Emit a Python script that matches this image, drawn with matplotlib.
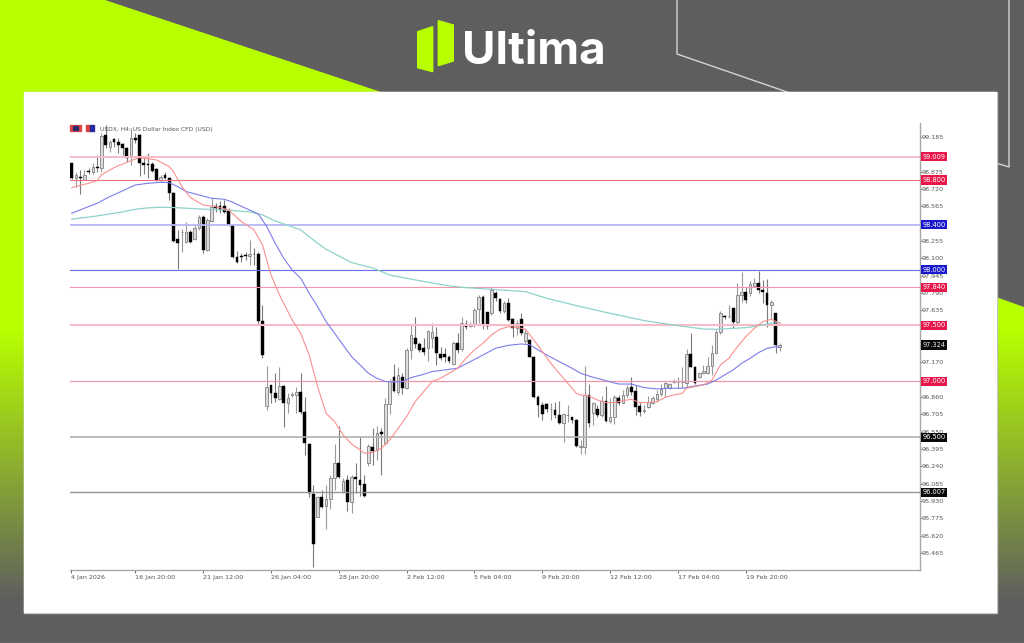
import numpy as np
import matplotlib
matplotlib.use("Agg")
from matplotlib import pyplot as plt
from matplotlib.patches import Polygon, Rectangle

opens = [98.950, 98.822, 98.828, 98.801, 98.881, 98.875, 98.920, 98.905, 99.203, 99.099, 99.167, 99.144,
         99.120, 99.090, 99.010, 99.179, 99.203, 98.950, 98.941, 98.941, 98.899, 98.798, 98.846, 98.816,
         98.682, 98.270, 98.333, 98.244, 98.339, 98.273, 98.369, 98.473, 98.175, 98.434, 98.565, 98.571,
         98.571, 98.527, 98.399, 98.116, 98.118, 98.127, 98.121, 98.139, 98.139, 97.543, 96.780, 96.968,
         96.893, 96.840, 96.959, 96.810, 96.878, 96.878, 96.902, 96.729, 96.440, 95.993, 95.791, 95.969,
         95.886, 95.946, 96.133, 96.267, 96.014, 96.118, 95.925, 96.148, 96.118, 96.083, 96.273, 96.410,
         96.387, 96.548, 96.446, 96.798, 97.042, 96.908, 97.042, 96.938, 97.281, 97.385, 97.334, 97.296,
         97.296, 97.385, 97.400, 97.245, 97.245, 97.215, 97.156, 97.346, 97.287, 97.513, 97.495, 97.504,
         97.644, 97.758, 97.618, 97.609, 97.787, 97.734, 97.632, 97.698, 97.555, 97.474, 97.555, 97.364,
         97.370, 97.221, 96.864, 96.789, 96.798, 96.750, 96.744, 96.700, 96.631, 96.697, 96.685, 96.655,
         96.417, 96.417, 96.878, 96.715, 96.750, 96.699, 96.827, 96.646, 96.684, 96.848, 96.810, 96.878,
         96.953, 96.917, 96.780, 96.738, 96.768, 96.804, 96.839, 96.884, 96.938, 96.938, 96.994, 96.994,
         96.991, 96.988, 97.242, 97.131, 97.036, 97.078, 97.078, 97.137, 97.257, 97.444, 97.584, 97.584,
         97.653, 97.534, 97.772, 97.802, 97.787, 97.853, 97.882, 97.817, 97.787, 97.683, 97.608, 97.304]
highs = [98.950, 98.875, 98.890, 98.890, 98.905, 98.950, 99.024, 99.218, 99.293, 99.158, 99.173, 99.173,
         99.129, 99.099, 99.263, 99.218, 99.209, 99.010, 99.039, 98.965, 98.905, 98.846, 98.869, 98.831,
         98.691, 98.354, 98.363, 98.428, 98.354, 98.399, 98.488, 98.488, 98.458, 98.643, 98.592, 98.613,
         98.622, 98.548, 98.405, 98.166, 98.145, 98.160, 98.264, 98.190, 98.160, 97.683, 97.138, 96.968,
         97.072, 97.126, 96.968, 96.893, 96.908, 96.953, 97.078, 96.857, 96.446, 96.074, 95.975, 96.029,
         96.074, 96.163, 96.440, 96.601, 96.133, 96.163, 96.163, 96.267, 96.506, 96.163, 96.440, 96.580,
         96.601, 96.580, 96.848, 97.018, 97.155, 97.126, 97.072, 97.296, 97.504, 97.579, 97.355, 97.385,
         97.460, 97.525, 97.489, 97.311, 97.296, 97.236, 97.364, 97.430, 97.579, 97.549, 97.534, 97.653,
         97.772, 97.772, 97.624, 97.841, 97.811, 97.743, 97.722, 97.743, 97.564, 97.549, 97.615, 97.460,
         97.376, 97.227, 96.879, 96.819, 96.810, 96.804, 96.819, 96.828, 96.721, 96.789, 96.685, 96.661,
         96.476, 97.138, 96.974, 96.819, 96.789, 96.869, 96.959, 96.848, 96.878, 96.878, 96.923, 96.967,
         97.042, 96.967, 96.818, 96.789, 96.869, 96.869, 96.923, 96.976, 96.997, 96.982, 97.018, 97.036,
         97.125, 97.286, 97.435, 97.137, 97.087, 97.146, 97.215, 97.325, 97.459, 97.632, 97.593, 97.683,
         97.659, 97.882, 97.981, 97.847, 97.900, 97.921, 97.990, 97.906, 97.912, 97.727, 97.614, 97.340]
lows = [98.810, 98.741, 98.679, 98.801, 98.852, 98.852, 98.875, 98.869, 99.084, 99.054, 99.099, 99.039,
        99.024, 98.965, 98.935, 99.129, 98.840, 98.852, 98.822, 98.875, 98.792, 98.786, 98.810, 98.622,
        98.250, 98.002, 98.160, 98.235, 98.235, 98.264, 98.354, 98.151, 98.169, 98.428, 98.518, 98.503,
        98.503, 98.390, 98.107, 98.056, 98.071, 98.086, 98.041, 98.041, 97.504, 97.212, 96.744, 96.804,
        96.819, 96.834, 96.595, 96.720, 96.857, 96.720, 96.708, 96.342, 95.969, 95.344, 95.785, 95.865,
        95.677, 95.856, 96.029, 96.133, 96.005, 95.844, 95.826, 95.999, 95.975, 95.969, 96.244, 96.253,
        96.297, 96.163, 96.430, 96.708, 96.908, 96.878, 96.887, 96.929, 97.197, 97.296, 97.266, 97.236,
        97.185, 97.296, 97.147, 97.191, 97.176, 97.168, 97.147, 97.257, 97.275, 97.466, 97.483, 97.489,
        97.519, 97.466, 97.466, 97.594, 97.722, 97.609, 97.609, 97.543, 97.400, 97.415, 97.415, 97.346,
        97.215, 96.849, 96.685, 96.655, 96.730, 96.655, 96.670, 96.619, 96.461, 96.640, 96.631, 96.417,
        96.348, 96.348, 96.595, 96.610, 96.685, 96.684, 96.640, 96.625, 96.619, 96.789, 96.804, 96.863,
        96.878, 96.699, 96.690, 96.714, 96.759, 96.798, 96.818, 96.869, 96.863, 96.929, 96.982, 96.938,
        96.938, 96.953, 97.125, 96.976, 97.027, 97.066, 97.066, 97.057, 97.245, 97.423, 97.555, 97.563,
        97.474, 97.504, 97.712, 97.704, 97.763, 97.841, 97.787, 97.698, 97.489, 97.555, 97.257, 97.274]
closes = [98.822, 98.846, 98.816, 98.846, 98.875, 98.920, 98.905, 99.197, 99.114, 99.138, 99.144, 99.114,
          99.090, 99.001, 99.179, 99.158, 98.956, 98.935, 98.935, 98.881, 98.798, 98.825, 98.822, 98.682,
          98.256, 98.241, 98.339, 98.339, 98.250, 98.369, 98.473, 98.175, 98.443, 98.562, 98.548, 98.533,
          98.518, 98.399, 98.116, 98.071, 98.116, 98.124, 98.139, 98.136, 97.543, 97.236, 96.953, 96.899,
          96.849, 96.959, 96.804, 96.849, 96.884, 96.902, 96.729, 96.446, 95.999, 95.546, 95.969, 95.880,
          95.946, 96.133, 96.267, 96.148, 96.112, 95.925, 96.148, 96.124, 96.077, 95.975, 96.422, 96.381,
          96.542, 96.527, 96.798, 97.006, 96.914, 97.057, 96.938, 97.281, 97.415, 97.334, 97.281, 97.266,
          97.454, 97.445, 97.251, 97.206, 97.215, 97.185, 97.346, 97.281, 97.519, 97.489, 97.513, 97.638,
          97.758, 97.504, 97.495, 97.817, 97.743, 97.632, 97.698, 97.549, 97.474, 97.525, 97.430, 97.430,
          97.215, 96.858, 96.789, 96.709, 96.750, 96.756, 96.700, 96.631, 96.709, 96.703, 96.655, 96.423,
          96.423, 96.878, 96.631, 96.810, 96.700, 96.827, 96.646, 96.684, 96.863, 96.804, 96.878, 96.944,
          96.908, 96.774, 96.729, 96.744, 96.818, 96.848, 96.887, 96.929, 96.988, 96.976, 96.997, 96.997,
          96.997, 97.242, 97.131, 96.982, 97.078, 97.096, 97.137, 97.257, 97.444, 97.614, 97.572, 97.587,
          97.534, 97.772, 97.802, 97.727, 97.870, 97.876, 97.817, 97.796, 97.683, 97.712, 97.325, 97.325]

red_bars = [0, 4, 6, 7, 10, 13, 16, 20, 23, 24, 26, 28, 31, 34, 37, 40, 43, 45, 47, 49, 50, 52, 54, 56, 58,
            60, 62, 64, 66, 68, 69, 71, 73, 75, 77, 79, 81, 83, 85, 87, 89, 91, 93, 95, 97, 99, 101, 103,
            105, 107, 109, 111, 113, 115, 117, 119, 120, 122, 124, 126, 128, 130, 132, 134, 136, 138, 140,
            142, 144, 145, 147, 149, 151, 153, 155, 157, 159, 161, 163, 165, 167]
red_ma = [98.732, 98.771, 98.795, 98.846, 98.911, 98.959, 99.001, 98.980, 98.920, 98.875, 98.741, 98.643,
          98.577, 98.562, 98.533, 98.428, 98.354, 98.220, 97.952, 97.773, 97.698, 97.549, 97.430, 97.236,
          96.953, 96.714, 96.640, 96.521, 96.440, 96.387, 96.357, 96.363, 96.402, 96.476, 96.580, 96.685,
          96.819, 96.908, 96.998, 97.028, 97.072, 97.117, 97.206, 97.281, 97.340, 97.415, 97.466, 97.489,
          97.483, 97.466, 97.370, 97.266, 97.162, 97.072, 96.983, 96.893, 96.878, 96.869, 96.833, 96.810,
          96.810, 96.827, 96.839, 96.810, 96.810, 96.818, 96.857, 96.878, 96.893, 96.938, 96.953, 96.968,
          97.012, 97.146, 97.206, 97.310, 97.400, 97.474, 97.534, 97.555, 97.519]

blue_bars = [0, 3, 6, 9, 12, 15, 18, 21, 23, 25, 27, 30, 33, 36, 38, 41, 44, 46, 48, 50, 52, 54, 56, 58, 60,
             62, 64, 66, 68, 70, 72, 74, 76, 78, 80, 83, 85, 88, 91, 94, 97, 100, 103, 106, 108, 110, 112,
             115, 118, 120, 123, 126, 129, 132, 135, 138, 141, 144, 147, 150, 152, 154, 156, 158, 160, 162,
             164, 166, 167]
blue_ma = [98.503, 98.548, 98.592, 98.652, 98.703, 98.756, 98.771, 98.780, 98.777, 98.741, 98.697, 98.667,
           98.637, 98.628, 98.601, 98.548, 98.497, 98.384, 98.235, 98.101, 97.996, 97.922, 97.788, 97.668,
           97.534, 97.430, 97.325, 97.221, 97.147, 97.072, 97.027, 96.998, 96.995, 96.998, 97.033, 97.063,
           97.087, 97.102, 97.117, 97.176, 97.236, 97.296, 97.322, 97.334, 97.328, 97.281, 97.236, 97.176,
           97.117, 97.072, 97.036, 97.006, 96.976, 96.976, 96.944, 96.932, 96.938, 96.938, 96.959, 96.976,
           97.012, 97.057, 97.102, 97.161, 97.206, 97.257, 97.295, 97.310, 97.304]

teal_bars = [0, 3, 6, 9, 12, 15, 18, 21, 24, 27, 30, 33, 36, 39, 42, 45, 48, 50, 54, 56, 58, 60, 64, 66, 71,
             75, 81, 89, 93, 99, 107, 112, 120, 127, 135, 143, 149, 152, 159, 162, 165, 167]
teal_ma = [98.449, 98.464, 98.479, 98.497, 98.515, 98.539, 98.551, 98.557, 98.554, 98.548, 98.542, 98.536,
           98.533, 98.524, 98.515, 98.488, 98.434, 98.408, 98.354, 98.294, 98.235, 98.181, 98.101, 98.062,
           98.014, 97.951, 97.907, 97.853, 97.838, 97.823, 97.802, 97.743, 97.668, 97.608, 97.543, 97.498,
           97.468, 97.465, 97.480, 97.498, 97.519, 97.525]

level_prices = [99.009, 98.800, 98.400, 98.000, 97.840, 97.500, 97.000, 96.500, 96.007]
level_labels = ["99.009", "98.800", "98.400", "98.000", "97.840", "97.500", "97.000", "96.500", "96.007"]
level_colors = ["#f7bcc8", "#ea7088", "#b8b8f4", "#6a6ae4", "#f295a8", "#f7bcc8", "#f295a8", "#b0b0b0", "#969696"]
level_widths = [1.4, 0.8, 1.3, 0.8, 0.8, 1.5, 0.9, 1.2, 1.0]
badge_colors = ["#e8184a", "#e8184a", "#1a1acc", "#1a1acc", "#e8184a", "#e8184a", "#e8184a", "#0a0a0a", "#0a0a0a"]

price_ticks = [99.185, 99.030, 98.875, 98.720, 98.565, 98.410, 98.255, 98.100, 97.945, 97.790, 97.635,
               97.480, 97.325, 97.170, 97.015, 96.860, 96.705, 96.550, 96.395, 96.240, 96.085, 95.930,
               95.775, 95.620, 95.465]
time_ticks = [-0.2, 15, 31, 47, 63, 79, 95, 111, 127, 143, 159]
time_labels = ["4 Jan 2026", "16 Jan 20:00", "21 Jan 12:00", "26 Jan 04:00", "28 Jan 20:00", "2 Feb 12:00",
               "5 Feb 04:00", "9 Feb 20:00", "12 Feb 12:00", "17 Feb 04:00", "19 Feb 20:00"]
last_price = 97.324

LIME = np.array([184, 255, 0]) / 255
GREY = np.array([94, 94, 94]) / 255
W, H = 1024, 643

fig = plt.figure(figsize=(W / 100, H / 100), dpi=100)

# page background, in pixel coordinates
bg = fig.add_axes([0, 0, 1, 1])
bg.set_xlim(0, W)
bg.set_ylim(H, 0)
bg.axis("off")
bg.add_patch(Rectangle((0, 0), W, H, color=GREY, zorder=0))

rows = np.arange(H)
mix = np.clip((rows - 330) / 270, 0, 1)[:, None]
grad = (LIME * (1 - mix) + GREY * mix)[:, None, :]
left_shape = Polygon([(0, 0), (105, 0), (381, 92), (381, 612), (0, 612)], transform=bg.transData)
right_shape = Polygon([(996, 297), (1024, 307), (1024, 612), (996, 612)], transform=bg.transData)
for shape in [left_shape, right_shape]:
    im = bg.imshow(grad, extent=(0, W, H, 0), aspect="auto", zorder=1)
    im.set_clip_path(shape)
bg.set_xlim(0, W)
bg.set_ylim(H, 0)

bg.plot([677, 677, 790], [0, 54, 93], color="#d4d4d4", lw=1.0, zorder=2)
bg.plot([996, 1009, 1009], [163, 167, 0], color="#d4d4d4", lw=1.0, zorder=2)
bg.add_patch(Rectangle((24, 92), 973, 521, color="#b8b8b8", zorder=3))
bg.add_patch(Rectangle((24, 92), 972, 520, color="white", zorder=4))
bg.plot([0, W], [642.5, 642.5], color="#e0e0e0", lw=0.8, zorder=5)

# logo
bg.add_patch(Polygon([(417.7, 31.7), (432.7, 26.7), (432.7, 71.7), (417.7, 67.7)], color="#b8ff00", zorder=5))
bg.add_patch(Polygon([(438.3, 20.7), (453.3, 25), (453.3, 61), (438.3, 65.7)], color="#b8ff00", zorder=5))
bg.text(462, 64.5, "Ultima", color="white", fontsize=33, fontweight="bold", family="Inter",
        ha="left", va="baseline", zorder=5)

# flags next to the title
bg.add_patch(Rectangle((70, 125), 11, 6, color="#e04848", zorder=5))
bg.add_patch(Rectangle((73, 126), 5, 4, color="#28286a", zorder=6))
bg.add_patch(Rectangle((86, 125), 4, 6, color="#d84040", zorder=5))
bg.add_patch(Rectangle((90, 125), 4, 6, color="#2828a0", zorder=5))

# chart
ax = fig.add_axes([70 / W, 1 - 570 / H, 850 / W, 447 / H], facecolor="none")
ax.set_xlim(-0.4, 200.07)
ax.set_ylim(95.313, 99.310)

bars = np.arange(len(opens))
o = np.array(opens)
c = np.array(closes)
up = c >= o
ax.vlines(bars[up], np.array(lows)[up], np.array(highs)[up], color="#9a9a9a", lw=0.8, zorder=2)
ax.vlines(bars[~up], np.array(lows)[~up], np.array(highs)[~up], color="#7a7a7a", lw=0.8, zorder=2)
ax.bar(bars[up], (c - o)[up], bottom=o[up], width=0.62, facecolor="#dcdcdc", edgecolor="#8e8e8e", lw=0.7, zorder=3)
ax.bar(bars[~up], (c - o)[~up], bottom=o[~up], width=0.66, facecolor="black", edgecolor="black", lw=0.3, zorder=3)

for price, col, lw in zip(level_prices, level_colors, level_widths):
    ax.axhline(price, color=col, lw=lw, zorder=4)

ax.plot(teal_bars, teal_ma, color="#8ed2ca", lw=0.9, zorder=5)
ax.plot(blue_bars, blue_ma, color="#7c7cec", lw=0.8, zorder=5)
ax.plot(red_bars, red_ma, color="#fa9090", lw=0.8, zorder=5)

for side in ["top", "left"]:
    ax.spines[side].set_visible(False)
for side in ["right", "bottom"]:
    ax.spines[side].set_color("#a8a8a8")
    ax.spines[side].set_linewidth(1.0)

ax.yaxis.tick_right()
ax.set_yticks(price_ticks)
ax.set_yticklabels(["%.3f" % p for p in price_ticks])
ax.set_xticks(time_ticks)
ax.set_xticklabels(time_labels, ha="left")
ax.tick_params(axis="y", length=1.5, width=0.6, pad=0, labelsize=4.6, colors="#555555")
ax.tick_params(axis="x", length=2, width=0.6, pad=1.5, labelsize=4.6, colors="#555555")

tr = ax.get_yaxis_transform()
for price, label, col in zip(level_prices, level_labels, badge_colors):
    ax.text(1.0026, price, label, transform=tr, fontsize=4.8, color="white", va="center", ha="left", zorder=8,
            clip_on=False, bbox=dict(boxstyle="square,pad=0.25", fc=col, ec="none"))
ax.text(1.0026, last_price, "%.3f" % last_price, transform=tr, fontsize=4.8, color="#e8e8e8", va="center",
        ha="left", zorder=8, clip_on=False, bbox=dict(boxstyle="square,pad=0.25", fc="#0a0a0a", ec="none"))

ax.text(30 / 850, 1 - 6 / 447, "USDX, H4: US Dollar Index CFD (USD)", transform=ax.transAxes, fontsize=4.3,
        color="#555555", va="center", ha="left", zorder=8)

fig.savefig("out.png", dpi=100)
